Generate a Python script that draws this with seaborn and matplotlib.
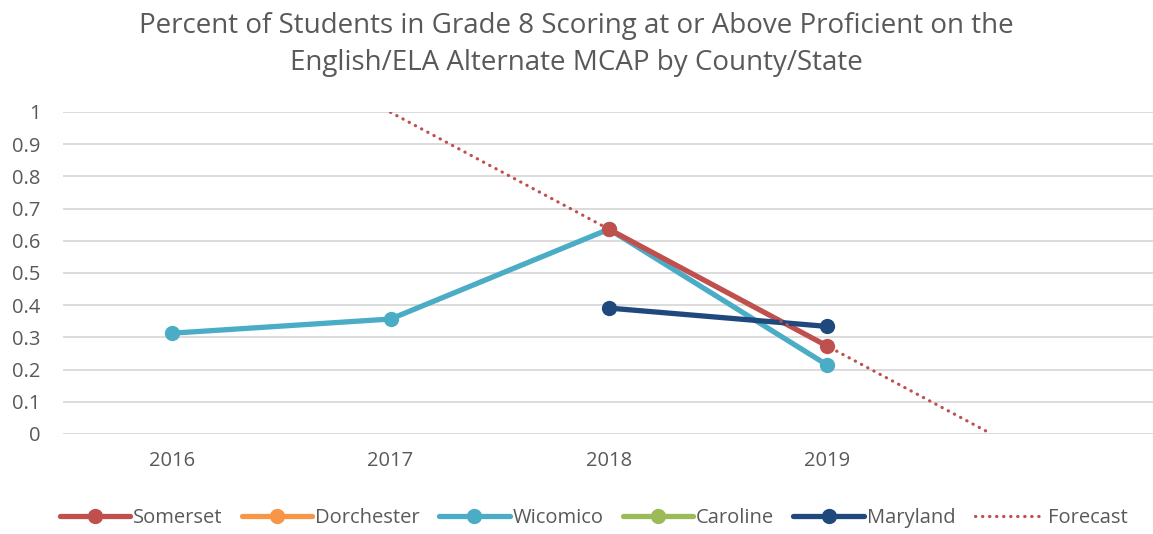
import numpy as np
import pandas as pd
import seaborn as sns
import matplotlib.pyplot as plt
from matplotlib.lines import Line2D

years = ["2016", "2017", "2018", "2019"]
somerset = [np.nan, np.nan, 0.636, 0.273]
dorchester = [np.nan, np.nan, np.nan, np.nan]
wicomico = [0.313, 0.357, 0.636, 0.214]
caroline = [np.nan, np.nan, np.nan, np.nan]
maryland = [np.nan, np.nan, 0.391, 0.334]

series = ["Somerset", "Dorchester", "Wicomico", "Caroline", "Maryland"]
colors = ["#C0504D", "#F79646", "#4BACC6", "#9BBB59", "#1F497D"]
values = [somerset, dorchester, wicomico, caroline, maryland]

# long form table for seaborn
rows = []
for name, vals in zip(series, values):
    for i, v in enumerate(vals):
        rows.append({"x": i, "year": years[i], "county": name, "value": v})
df = pd.DataFrame(rows)

sns.set_style("white")
plt.rcParams["font.family"] = ["Open Sans", "DejaVu Sans"]
txt = "#595959"
dots = (0, (0.1, 2.1))

fig = plt.figure(figsize=(11.53, 5.34), dpi=100)
ax = fig.add_axes([0.0546, 0.1873, 0.947, 0.603])

# draw order: Wicomico under Somerset, Maryland on top
for name in ["Wicomico", "Somerset", "Maryland"]:
    sub = df[df.county == name].dropna()
    sns.lineplot(data=sub, x="x", y="value", ax=ax, color=colors[series.index(name)],
                 linewidth=3.8, marker="o", markersize=11, markeredgewidth=0,
                 clip_on=False, zorder=3)

# linear trendline on Somerset, extended back 1 and forward 0.75 periods
s = df[df.county == "Somerset"].dropna()
k, b = np.polyfit(s.x, s.value, 1)
fx = np.array([s.x.min() - 1, s.x.max() + 0.75])
ax.plot(fx, k * fx + b, color="#C0504D", linewidth=2.3,
        linestyle=dots, dash_capstyle="round", zorder=4)

ax.set_xlim(-0.5, 4.5)
ax.set_ylim(0, 1)
ax.set_yticks(np.arange(0, 1.01, 0.1))
ax.set_yticklabels(["0"] + [f"{v:.1f}" for v in np.arange(0.1, 0.95, 0.1)] + ["1"])
ax.set_xticks(range(len(years)))
ax.set_xticklabels(years)
ax.tick_params(axis="both", length=0, labelsize=14.5, colors=txt)
ax.tick_params(axis="x", pad=12)
ax.tick_params(axis="y", pad=16)
ax.grid(axis="y", color="#D9D9D9", linewidth=1.3)
ax.set_axisbelow(True)
for sp in ax.spines.values():
    sp.set_visible(False)
ax.set_xlabel("")
ax.set_ylabel("")

fig.suptitle("Percent of Students in Grade 8 Scoring at or Above Proficient on the\n"
             "English/ELA Alternate MCAP by County/State",
             y=0.978, fontsize=20, color=txt, linespacing=1.45)

handles = [Line2D([], [], color=c, linewidth=3.8, marker="o", markersize=11,
                  markeredgewidth=0) for c in colors]
handles.append(Line2D([], [], color="#C0504D", linewidth=2.3,
                      linestyle=dots, dash_capstyle="round"))
fig.legend(handles, series + ["Forecast"], loc="center", bbox_to_anchor=(0.515, 0.03),
           ncol=6, frameon=False, fontsize=14.5, labelcolor=txt, handlelength=3.5,
           handletextpad=0.15, columnspacing=0.95)

fig.savefig("out.png", dpi=100)
